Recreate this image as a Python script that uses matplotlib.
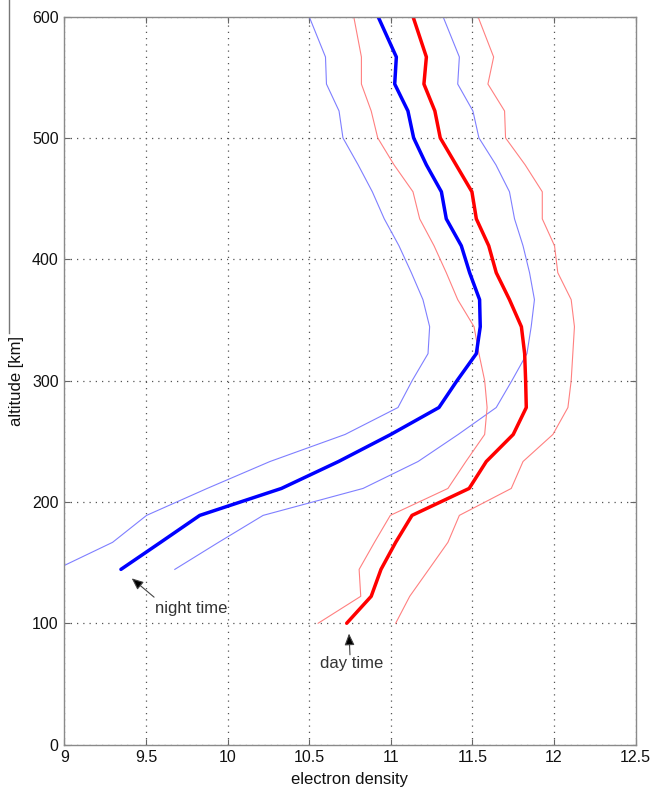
import matplotlib
matplotlib.use("Agg")
import matplotlib.pyplot as plt
from matplotlib.lines import Line2D

# ---------------- data ----------------
altitude = [100, 122.2, 144.4, 166.7, 188.9, 211.1, 233.3, 255.6, 277.8, 300,
            322.2, 344.4, 366.7, 388.9, 411.1, 433.3, 455.6, 477.8, 500, 522.2,
            544.4, 566.7, 600]

day_mean = [10.73, 10.88, 10.94, 11.03, 11.13, 11.48, 11.585, 11.75, 11.83, 11.826,
            11.82, 11.80, 11.727, 11.646, 11.60, 11.524, 11.497, 11.40, 11.303, 11.27,
            11.203, 11.218, 11.136]
day_low = [10.555, 10.816, 10.806, 10.90, 10.997, 11.35, 11.46, 11.575, 11.59, 11.575,
           11.54, 11.51, 11.41, 11.34, 11.265, 11.177, 11.136, 11.02, 10.92, 10.88,
           10.82, 10.82, 10.773]
day_high = [11.03, 11.116, 11.233, 11.35, 11.42, 11.738, 11.81, 11.993, 12.085, 12.105,
            12.115, 12.125, 12.105, 12.023, 12.003, 11.928, 11.928, 11.823, 11.703, 11.697,
            11.595, 11.63, 11.534]

night_altitude = altitude[2:]
night_mean = [9.347, 9.59, 9.83, 10.33, 10.68, 11.0, 11.295, 11.406,
              11.524, 11.548, 11.544, 11.483, 11.432, 11.34, 11.31, 11.218, 11.14, 11.105,
              11.024, 11.034, 10.922]
night_low = [8.95, 9.296, 9.504, 9.875, 10.26, 10.72, 11.044, 11.131,
             11.228, 11.238, 11.197, 11.126, 11.05, 10.96, 10.887, 10.80, 10.707, 10.683,
             10.606, 10.60, 10.50]
night_high = [9.677, 9.945, 10.218, 10.83, 11.167, 11.413, 11.646, 11.742,
              11.834, 11.86, 11.88, 11.85, 11.81, 11.758, 11.727, 11.644, 11.54, 11.503,
              11.41, 11.42, 11.32]

x_ticks = [9, 9.5, 10, 10.5, 11, 11.5, 12, 12.5]
x_tick_labels = ["9", "9.5", "10", "10.5", "11", "11.5", "12", "12.5"]
y_ticks = [0, 100, 200, 300, 400, 500, 600]

# ---------------- figure ----------------
plt.rcParams['font.family'] = ['Liberation Sans', 'DejaVu Sans']
fig = plt.figure(figsize=(6.56, 7.90), dpi=100)
ax = fig.add_axes([0.098, 0.0575, 0.871, 0.9215])

thin_blue = '#7f7fff'
thin_red = '#ff8080'
ax.plot(night_low, night_altitude, color=thin_blue, lw=0.8)
ax.plot(night_high, night_altitude, color=thin_blue, lw=0.8)
ax.plot(day_low, altitude, color=thin_red, lw=0.8)
ax.plot(day_high, altitude, color=thin_red, lw=0.8)
ax.plot(night_mean, night_altitude, color='#0000ff', lw=2.5, solid_capstyle='round')
ax.plot(day_mean, altitude, color='#ff0000', lw=2.5, solid_capstyle='round')

ax.set_xlim(9, 12.5)
ax.set_ylim(0, 600)
ax.set_xticks(x_ticks)
ax.set_xticklabels(x_tick_labels)
ax.set_yticks(y_ticks)

ax.grid(True, color='#555555', linestyle=(0, (1, 4)), linewidth=0.9)
ax.tick_params(direction='in', top=True, right=True, length=4, width=0.8,
               color='#666666', labelsize=11.5, pad=4, labelcolor='#111111')
for s in ax.spines.values():
    s.set_color('#8a8a8a')
    s.set_linewidth(1.0)

ax.set_xlabel('electron density', fontsize=12, color='#111111')
ax.xaxis.set_label_coords(0.5, -0.038)
ax.set_ylabel('altitude [km]', fontsize=12, color='#111111')
ax.yaxis.set_label_coords(-0.0705, 0.5)

# annotations
ax.annotate('', xy=(9.413, 137), xytext=(9.55, 121.5),
            arrowprops=dict(arrowstyle='-|>,head_length=0.7,head_width=0.3',
                            fc='black', ec='#444444', lw=0.8, shrinkA=0, shrinkB=0))
ax.text(9.555, 112.5, 'night time', fontsize=12, color='#333333',
        ha='left', va='center')
ax.annotate('', xy=(10.744, 91.5), xytext=(10.75, 74),
            arrowprops=dict(arrowstyle='-|>,head_length=0.7,head_width=0.3',
                            fc='black', ec='#444444', lw=0.8, shrinkA=0, shrinkB=0))
ax.text(10.76, 66.5, 'day time', fontsize=12, color='#333333',
        ha='center', va='center')

# scan border artefact on the far left
fig.add_artist(Line2D([9 / 656, 9 / 656], [1.0, 1 - 333 / 790],
                      transform=fig.transFigure, color='#777777', lw=1.0))

fig.savefig('out.png', dpi=100)
